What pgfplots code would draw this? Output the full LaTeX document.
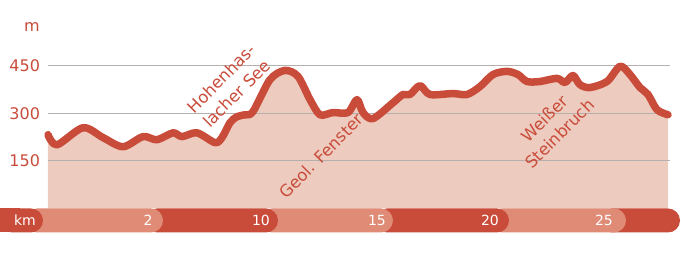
\documentclass[border=0pt]{standalone}
\usepackage{pgfplots}
\pgfplotsset{compat=1.18}
\usepackage{fontspec}
\setmainfont{DejaVu Sans}
\definecolor{rd}{HTML}{C94C3B}
\definecolor{fl}{HTML}{EDCCBF}
\definecolor{lt}{HTML}{DF8B76}
\definecolor{gr}{HTML}{B5B0AE}
\begin{document}
\begin{tikzpicture}
\begin{axis}[
  scale only axis, width=622pt, height=142.5pt,
  xmin=48, xmax=670, ymin=0, ymax=450,
  clip=false,
  axis line style={draw=none},
  major tick length=0pt,
  xtick=\empty,
  ytick={150,300,450},
  yticklabel style={text=rd, font=\fontsize{16}{16}\selectfont, xshift=-4.5pt},
  /pgf/number format/assume math mode=true,
]
\path (axis cs:0,658.4) rectangle (axis cs:681,-150);
\addplot[fill=fl, draw=none, smooth, tension=0.5] coordinates {
(48,233)(57,201)(83,255)(103,224)(123,195)(143,227)(157,217)(173,239)(182,227)(197,239)(215,208)(222,224)(230,271)(237,290)(245,296)(253,306)(270,407)(285,436)(298,417)(310,344)(320,296)(333,303)(348,303)(357,344)(363,303)(373,284)(393,334)(403,360)(410,360)(420,388)(430,360)(453,363)(467,360)(480,385)(493,423)(507,433)(518,423)(527,401)(540,401)(557,411)(565,398)(573,420)(580,391)(590,382)(607,401)(620,449)(630,423)(640,382)(648,360)(657,312)(668,296)
} \closedcycle;
\draw[gr, line width=1pt] (axis cs:48,150) -- (axis cs:670,150);
\draw[gr, line width=1pt] (axis cs:48,300) -- (axis cs:670,300);
\draw[gr, line width=1pt] (axis cs:48,450) -- (axis cs:670,450);
\addplot[rd, line width=7.5pt, smooth, tension=0.5, line cap=round, line join=round] coordinates {
(48,233)(57,201)(83,255)(103,224)(123,195)(143,227)(157,217)(173,239)(182,227)(197,239)(215,208)(222,224)(230,271)(237,290)(245,296)(253,306)(270,407)(285,436)(298,417)(310,344)(320,296)(333,303)(348,303)(357,344)(363,303)(373,284)(393,334)(403,360)(410,360)(420,388)(430,360)(453,363)(467,360)(480,385)(493,423)(507,433)(518,423)(527,401)(540,401)(557,411)(565,398)(573,420)(580,391)(590,382)(607,401)(620,449)(630,423)(640,382)(648,360)(657,312)(668,296)
};
% km bar
\fill[rd, rounded corners=12pt] (axis cs:600,0) rectangle (axis cs:680,-75.8);
\fill[lt, rounded corners=12pt] (axis cs:490,0) rectangle (axis cs:626,-75.8);
\fill[rd, rounded corners=12pt] (axis cs:375,0) rectangle (axis cs:509,-75.8);
\fill[lt, rounded corners=12pt] (axis cs:260,0) rectangle (axis cs:393,-75.8);
\fill[rd, rounded corners=12pt] (axis cs:145,0) rectangle (axis cs:278,-75.8);
\fill[lt, rounded corners=12pt] (axis cs:25,0) rectangle (axis cs:163,-75.8);
\fill[rd, rounded corners=12pt] (axis cs:0,0) rectangle (axis cs:43,-75.8);
\fill[rd] (axis cs:0,0) rectangle (axis cs:20,-75.8);
\begin{scope}[every node/.style={text=white, font=\fontsize{14}{14}\selectfont}]
\node at (axis cs:25,-37.9) {km};
\node at (axis cs:148,-37.9) {2};
\node at (axis cs:261,-37.9) {10};
\node at (axis cs:377,-37.9) {15};
\node at (axis cs:490,-37.9) {20};
\node at (axis cs:604,-37.9) {25};
\end{scope}
\node[text=rd, font=\fontsize{16}{16}\selectfont] at (axis cs:32,573) {m};
\begin{scope}[every node/.style={text=rd, rotate=45, align=center, inner sep=0pt, font=\fontsize{16.5}{21.5}\selectfont}]
\node at (axis cs:229,387) {Hohenhas-\\lacher See};
\node at (axis cs:321,166) {Geol. Fenster};
\node at (axis cs:552,260) {Weißer\\Steinbruch};
\end{scope}
\end{axis}
\end{tikzpicture}
\end{document}
